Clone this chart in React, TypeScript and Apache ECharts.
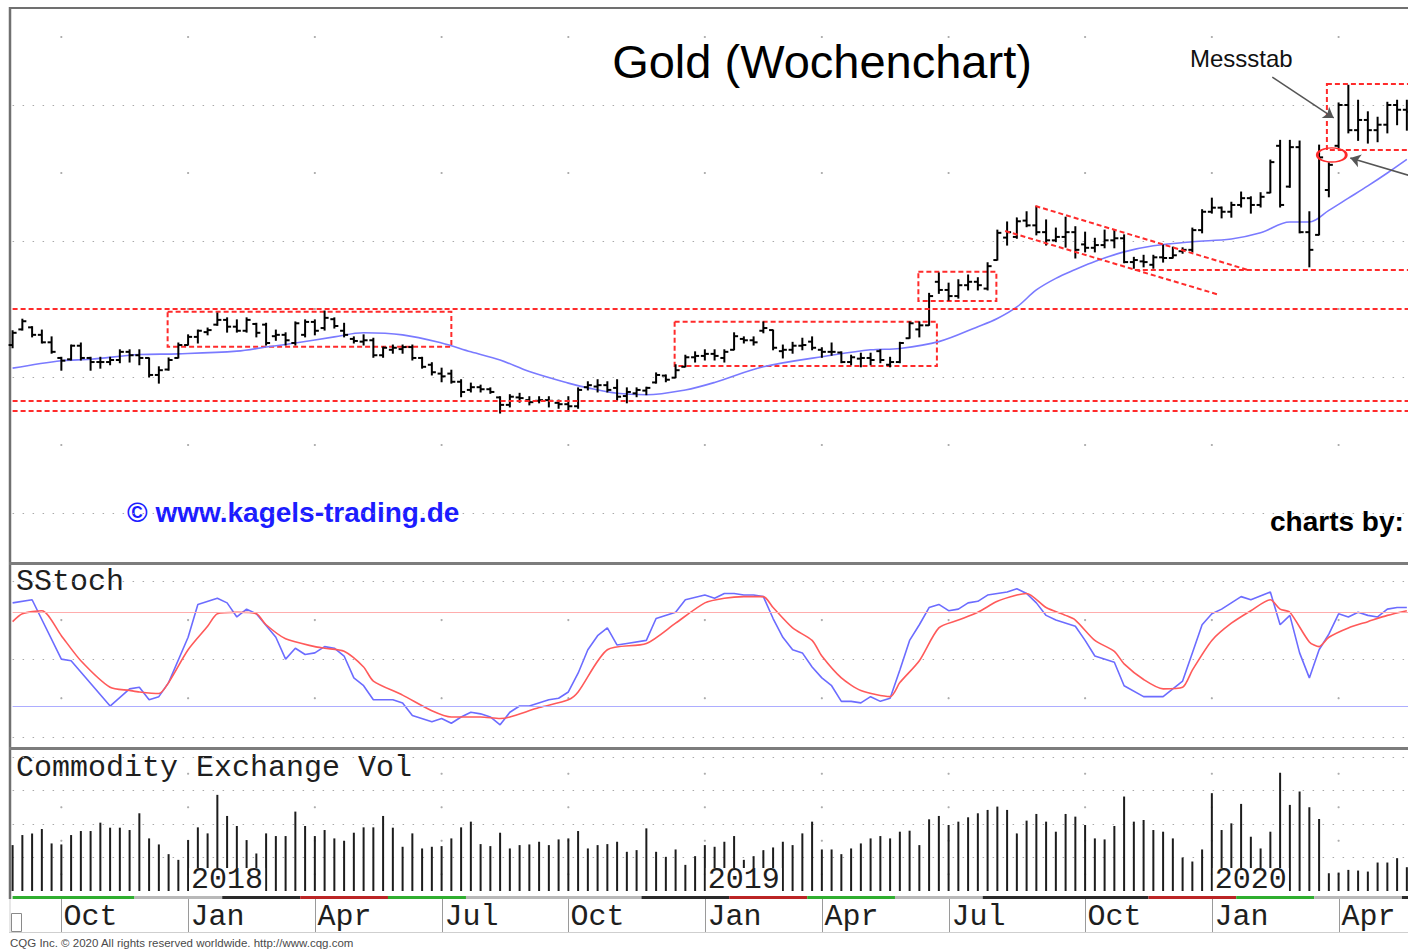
import React, { useEffect, useRef } from "react";
import * as echarts from "echarts";

// ---------- data ----------
const START = Date.UTC(2017, 7, 28);
const NCAT = 148;
const weeks: string[] = Array.from({ length: NCAT }, (_, i) =>
  new Date(START + i * 7 * 86400000).toISOString().slice(0, 10)
);

const monthTicks: [number, string][] = [
  [5, "Oct"], [18, "Jan"], [31, "Apr"], [44, "Jul"], [57, "Oct"], [71, "Jan"],
  [83, "Apr"], [96, "Jul"], [110, "Oct"], [123, "Jan"], [136, "Apr"],
];
const yearTicks: [number, string][] = [[18, "2018"], [71, "2019"], [123, "2020"]];

// weekly OHLC [open, high, low, close]
const ohlc: number[][] = [
  [1347,1368,1343,1365],[1370,1385,1369,1382],[1373,1374,1359,1362],[1362,1369,1350,1351],[1351,1359,1335,1337],
  [1328,1329,1310,1324],[1326,1347,1325,1346],[1346,1350,1325,1328],[1328,1329,1310,1322],[1322,1329,1313,1322],
  [1322,1329,1318,1325],[1325,1340,1321,1337],[1337,1340,1322,1332],[1332,1340,1318,1328],[1328,1328,1300,1303],
  [1303,1315,1291,1310],[1311,1328,1310,1325],[1328,1350,1328,1347],[1347,1362,1347,1359],[1359,1369,1350,1368],
  [1366,1372,1362,1369],[1377,1394,1376,1384],[1384,1387,1366,1374],[1374,1384,1366,1368],[1368,1387,1366,1384],
  [1378,1379,1359,1365],[1377,1379,1347,1350],[1360,1369,1354,1362],[1362,1365,1347,1354],[1350,1381,1347,1379],
  [1362,1384,1359,1381],[1381,1384,1362,1368],[1372,1397,1369,1387],[1385,1387,1372,1375],[1368,1379,1359,1362],
  [1356,1359,1350,1353],[1352,1362,1347,1354],[1354,1357,1329,1332],[1332,1344,1329,1343],[1340,1347,1335,1343],
  [1341,1347,1335,1344],[1344,1347,1325,1328],[1328,1329,1313,1315],[1318,1321,1303,1307],[1305,1313,1293,1301],
  [1305,1310,1291,1293],[1293,1296,1271,1278],[1281,1291,1278,1285],[1285,1288,1278,1282],[1282,1284,1276,1278],
  [1270,1271,1247,1259],[1259,1274,1256,1271],[1270,1276,1263,1269],[1266,1271,1259,1263],[1265,1271,1262,1266],
  [1266,1271,1256,1265],[1262,1266,1254,1260],[1260,1271,1251,1257],[1257,1284,1254,1281],[1285,1293,1281,1288],
  [1286,1296,1278,1288],[1288,1293,1278,1281],[1284,1296,1266,1271],[1272,1284,1262,1278],[1276,1284,1271,1281],
  [1280,1285,1274,1284],[1292,1306,1291,1303],[1302,1303,1293,1296],[1299,1318,1299,1310],[1315,1332,1315,1329],
  [1329,1337,1322,1331],[1331,1340,1325,1334],[1334,1340,1325,1331],[1328,1340,1322,1337],[1340,1365,1340,1360],
  [1356,1359,1350,1354],[1354,1359,1347,1351],[1368,1381,1365,1372],[1369,1369,1340,1343],[1338,1347,1328,1340],
  [1340,1351,1335,1346],[1346,1357,1340,1347],[1352,1359,1340,1343],[1340,1343,1329,1337],[1337,1350,1332,1337],
  [1336,1337,1321,1322],[1322,1332,1318,1329],[1327,1335,1315,1328],[1328,1335,1318,1325],[1338,1340,1321,1325],
  [1318,1329,1315,1322],[1322,1351,1321,1350],[1357,1381,1357,1379],[1370,1381,1359,1376],[1376,1423,1376,1419],
  [1440,1453,1423,1428],[1428,1438,1413,1419],[1419,1443,1416,1435],[1435,1450,1428,1440],[1440,1446,1428,1435],
  [1430,1468,1428,1463],[1472,1516,1472,1512],[1505,1528,1494,1513],[1506,1534,1504,1529],[1530,1543,1521,1523],
  [1523,1551,1509,1513],[1513,1531,1494,1501],[1501,1519,1499,1506],[1506,1535,1491,1513],[1513,1521,1475,1487],
  [1495,1513,1484,1490],[1490,1504,1484,1494],[1494,1516,1490,1501],[1501,1516,1490,1504],[1504,1509,1468,1469],
  [1469,1476,1460,1472],[1470,1479,1462,1469],[1465,1479,1460,1476],[1476,1494,1469,1475],[1475,1491,1475,1479],
  [1485,1490,1482,1487],[1487,1519,1484,1516],[1516,1546,1512,1543],[1543,1563,1541,1549],[1549,1550,1534,1543],
  [1543,1557,1535,1553],[1553,1572,1550,1563],[1563,1565,1541,1553],[1553,1571,1550,1565],[1571,1619,1571,1616],
  [1640,1648,1550,1553],[1580,1648,1579,1638],[1638,1647,1512,1513],[1513,1543,1462,1487],[1509,1641,1509,1623],
  [1575,1615,1565,1612],[1640,1703,1637,1700],[1700,1729,1659,1663],[1663,1707,1648,1678],[1678,1690,1644,1663],
  [1663,1682,1646,1671],[1671,1704,1659,1700],[1700,1707,1671,1693],[1693,1707,1663,1690],
];

// moving average line, read at [week, value]
const maPoints: number[][] = [
  [0,1313],[5,1324],[8,1326],[13,1333],[17,1334],[23,1338],[26,1344],[29,1350],[33,1359],[36,1365],
  [40,1362],[44,1350],[47,1337],[50,1325],[53,1308],[57,1291],[59,1284],[62,1276],[65,1274],[69,1281],
  [72,1292],[77,1315],[84,1332],[88,1340],[91,1342],[95,1352],[99,1374],[101,1386],[103,1403],[105,1428],
  [107,1445],[109,1458],[111,1470],[114,1484],[117,1493],[121,1499],[125,1503],[128,1512],[131,1528],
  [133,1528],[135,1545],[137,1563],[139,1581],[141,1600],[143,1620],
];

// slow stochastic %K (blue) and %D (red), [week, value]
const stochK: number[][] = [
  [0,86],[2,88],[5,50],[6,49],[10,20],[12,31],[13,32],[14,24],[15,26],[16,35],[18,64],[19,85],[21,89],[22,86],
  [23,77],[24,82],[25,79],[27,64],[28,50],[29,57],[30,53],[31,54],[32,58],[33,57],[34,52],[35,38],[36,33],[37,24],
  [39,24],[40,22],[41,14],[43,10],[44,12],[45,9],[46,13],[47,16],[48,15],[49,13],[50,8],[51,16],[52,20],[53,20],
  [55,24],[56,25],[57,29],[58,41],[59,56],[60,65],[61,70],[62,59],[63,60],[65,62],[66,76],[68,80],[69,88],[71,91],
  [72,89],[73,92],[74,92],[75,91],[76,91],[77,90],[78,76],[79,64],[80,56],[81,54],[82,45],[83,38],[84,33],[85,23],
  [86,23],[87,22],[88,26],[89,23],[90,25],[91,43],[92,62],[93,72],[94,83],[95,85],[96,81],[97,82],[98,86],[99,87],
  [100,91],[101,92],[102,93],[103,95],[104,92],[105,86],[106,78],[107,75],[109,71],[110,62],[111,52],[113,48],
  [114,33],[116,26],[118,26],[119,31],[120,36],[121,54],[122,72],[123,79],[124,82],[126,90],[127,88],[129,93],
  [130,72],[131,78],[132,54],[133,38],[134,56],[135,66],[136,79],[137,77],[138,80],[139,78],[140,77],[141,82],
  [142,83],[143,83],
];
const stochD: number[][] = [
  [0,74],[1,79],[3,81],[5,65],[7,49],[10,32],[12,30],[13,29],[15,28],[16,35],[18,56],[20,71],[21,79],[23,80],
  [25,79],[26,72],[28,63],[31,58],[32,57],[34,55],[36,45],[37,36],[40,27],[43,17],[45,13],[48,13],[50,12],[51,13],
  [54,19],[57,24],[58,29],[61,56],[65,60],[68,73],[71,86],[73,89],[75,90],[77,90],[78,83],[80,70],[82,62],[83,52],
  [85,38],[87,30],[90,26],[91,35],[93,49],[95,70],[97,75],[99,80],[101,87],[103,91],[104,92],[106,83],[108,78],
  [109,75],[111,62],[113,55],[114,47],[116,37],[118,31],[120,32],[121,43],[123,62],[125,73],[127,81],[129,88],
  [130,82],[131,80],[133,61],[134,58],[135,64],[137,70],[139,74],[141,78],[143,81],
];
const stochLevels = { upper: 80, lower: 20 };

// weekly volume (thousand contracts)
const volume: number[] = [
  137,167,172,185,142,139,167,179,179,204, 189,189,182,232,157,139,110,93,152,190,
  172,287,224,194,152,112,172,164,164,237, 194,164,182,157,150,174,190,190,224,189,
  132,172,127,132,134,157,190,207,140,134, 174,127,137,139,147,137,154,157,179,127,
  137,140,147,117,122,187,117,102,124,78, 104,137,132,147,164,93,104,122,130,147,
  137,172,207,124,124,110,127,142,157,164, 157,177,180,137,214,224,197,207,220,232,
  242,252,242,172,210,230,207,177,230,222, 197,157,154,194,282,207,212,182,177,157,
  100,88,124,292,182,202,260,162,127,177, 353,257,297,250,215,53,55,63,61,58,
  85,85,98,71,
];

// coloured strip below the volume pane: [first week, last week, kind]
const stripSegments: [number, number, string][] = [
  [0,12,"g"],[13,21,"s"],[22,29,"k"],[30,38,"r"],[39,46,"g"],[47,64,"s"],[65,73,"k"],[74,81,"r"],
  [82,90,"g"],[91,99,"s"],[100,116,"k"],[117,125,"r"],[126,133,"g"],[134,142,"s"],[143,147,"k"],
];

// annotations in data coordinates [week, price]
const annotLevels = [1401, 1265, 1250];
const annotBoxes: number[][] = [
  [15.9, 1396, 45.0, 1344.5],
  [67.9, 1381.3, 94.8, 1316.2],
  [92.9, 1454.8, 100.9, 1411.7],
  [134.8, 1730.9, 147, 1633.8],
];
const annotSegments: number[][] = [
  [104.9, 1551.5, 126.7, 1457.4],
  [101.8, 1514.7, 123.8, 1420.6],
  [115.1, 1457.4, 147, 1457.4],
];
const annotArrows: number[][] = [
  [129.2, 1741, 135.5, 1681],
  [146.4, 1583, 137.2, 1622],
];
const annotEllipse = [135.3, 1626.5];

const priceMinorLevels = [1200, 1400, 1600, 1800];
const stochMinorLevels = [25, 75];
const volMinorLevels = [50, 150, 250, 350];

// ---------- styling / layout ----------
const W = 1408;
const H = 952;
const X0 = 12.6;
const DX = 9.75;
const PLOT_W = (NCAT - 1) * DX;
const RED = "#ff2b2b";
const DOT = "#a9a9a9";
const MONO = '"Liberation Mono", "DejaVu Sans Mono", monospace';
const SANS = '"Liberation Sans", Arial, sans-serif';
const STRIP_COLORS: Record<string, string> = { g: "#2fae2f", s: "#b8b8b8", k: "#2a2a2a", r: "#bb2424" };

function buildOption(): any {
  const grids = [
    { top: 37, height: 476 },
    { top: 581, height: 156.3 },
    { top: 750.3, height: 140.7 },
    { top: 896, height: 3 },
    { top: 899, height: 33 },
  ].map((g) => ({ ...g, left: X0, width: PLOT_W, show: false, containLabel: false, outerBoundsMode: "none" }));

  const vx = (gridIndex: number) => ({
    type: "value", gridIndex, min: 0, max: NCAT - 1,
    axisLine: { show: false }, axisTick: { show: false }, axisLabel: { show: false }, splitLine: { show: false },
  });
  const hiddenY = (gridIndex: number) => ({
    type: "value", gridIndex, min: 0, max: 1,
    axisLine: { show: false }, axisTick: { show: false }, axisLabel: { show: false }, splitLine: { show: false },
  });
  const dotted = (color: any) => ({ show: true, lineStyle: { color, type: [1.5, 8.5], width: 1.2 } });

  const quarterIdx = monthTicks.map((t) => t[0]);
  const dots = (levels: number[]) => quarterIdx.flatMap((i) => levels.map((v) => [i, v]));
  const yearLines = (lo: number, hi: number, dash: number[]) => ({
    silent: true, symbol: ["none", "none"], label: { show: false },
    lineStyle: { color: DOT, type: dash, width: 1.2 },
    emphasis: { disabled: true },
    data: yearTicks.map(([i]) => [{ coord: [i, lo] }, { coord: [i, hi] }]),
  });

  const arrowStyle = { color: "#555", type: "solid", width: 1.5 };

  return {
    animation: false,
    backgroundColor: "#ffffff",
    grid: grids,
    xAxis: [vx(0), vx(1), vx(2), vx(3), vx(4)],
    yAxis: [
      {
        type: "value", gridIndex: 0, min: 1100, max: 1800, interval: 100,
        axisLine: { show: false }, axisTick: { show: false }, axisLabel: { show: false },
        splitLine: dotted([DOT, "rgba(0,0,0,0)"]),
      },
      {
        type: "value", gridIndex: 1, min: 0, max: 100, interval: 50,
        axisLine: { show: false }, axisTick: { show: false }, axisLabel: { show: false },
        splitLine: dotted(DOT),
      },
      {
        type: "value", gridIndex: 2, min: 0, max: 420, interval: 100,
        axisLine: { show: false }, axisTick: { show: false }, axisLabel: { show: false },
        splitLine: dotted(["rgba(0,0,0,0)", DOT, DOT, DOT, DOT, "rgba(0,0,0,0)"]),
      },
      hiddenY(3), hiddenY(4),
    ],
    series: [
      {
        type: "custom", name: "Gold", xAxisIndex: 0, yAxisIndex: 0, silent: true, clip: false, z: 4,
        data: ohlc.map((d, i) => [i, d[0], d[1], d[2], d[3]]),
        encode: { x: 0, y: [1, 2, 3, 4] },
        renderItem: (_p: any, api: any) => {
          const i = api.value(0);
          const o = api.coord([i, api.value(1)]);
          const h = api.coord([i, api.value(2)]);
          const l = api.coord([i, api.value(3)]);
          const c = api.coord([i, api.value(4)]);
          const x = h[0];
          const st = { stroke: "#000", lineWidth: 2 };
          return {
            type: "group",
            children: [
              { type: "line", shape: { x1: x, y1: h[1] - 0.5, x2: x, y2: l[1] + 0.5 }, style: st },
              { type: "line", shape: { x1: x - 4, y1: o[1], x2: x, y2: o[1] }, style: st },
              { type: "line", shape: { x1: x, y1: c[1], x2: x + 4, y2: c[1] }, style: st },
            ],
          };
        },
      },
      {
        type: "line", name: "MA", xAxisIndex: 0, yAxisIndex: 0, data: maPoints, smooth: 0.35,
        symbol: "none", silent: true, z: 3,
        lineStyle: { color: "#7a7aff", width: 1.6 },
        markArea: {
          silent: true, label: { show: false },
          itemStyle: { color: "rgba(0,0,0,0)", borderColor: RED, borderWidth: 2, borderType: [5, 3] },
          data: annotBoxes.map(([x1, y1, x2, y2]) => [{ coord: [x1, y1] }, { coord: [x2, y2] }]),
        },
        markLine: {
          silent: true, symbol: ["none", "none"], label: { show: false },
          lineStyle: { color: RED, type: [5, 3], width: 2 },
          emphasis: { disabled: true },
          data: [
            ...annotLevels.map((v) => ({ yAxis: v })),
            ...annotSegments.map(([x1, y1, x2, y2]) => [{ coord: [x1, y1] }, { coord: [x2, y2] }]),
            ...annotArrows.map(([x1, y1, x2, y2]) => [
              { coord: [x1, y1], symbol: "none", lineStyle: arrowStyle },
              { coord: [x2, y2], symbol: "arrow", symbolSize: 10 },
            ]),
          ],
        },
        markPoint: {
          silent: true, label: { show: false }, symbol: "circle", symbolSize: [29, 14],
          itemStyle: { color: "rgba(0,0,0,0)", borderColor: RED, borderWidth: 2 },
          data: [{ coord: annotEllipse }],
        },
      },
      {
        type: "scatter", xAxisIndex: 0, yAxisIndex: 0, data: dots(priceMinorLevels), symbolSize: 2.2,
        itemStyle: { color: "#999" }, silent: true, clip: false, z: 1,
        markLine: yearLines(1031, 1840, [1.5, 25.5]),
      },
      {
        type: "line", name: "%K", xAxisIndex: 1, yAxisIndex: 1, data: stochK, symbol: "none", silent: true,
        lineStyle: { color: "#6c6cff", width: 1.6 }, z: 3,
        markLine: {
          silent: true, symbol: ["none", "none"], label: { show: false }, emphasis: { disabled: true },
          data: [
            { yAxis: stochLevels.upper, lineStyle: { color: "#ffadad", type: "solid", width: 1.2 } },
            { yAxis: stochLevels.lower, lineStyle: { color: "#adadff", type: "solid", width: 1.2 } },
          ],
        },
      },
      {
        type: "line", name: "%D", xAxisIndex: 1, yAxisIndex: 1, data: stochD, symbol: "none", silent: true,
        smooth: 0.25, lineStyle: { color: "#ff5a5a", width: 1.6 }, z: 3,
      },
      {
        type: "scatter", xAxisIndex: 1, yAxisIndex: 1, data: dots(stochMinorLevels), symbolSize: 2.2,
        itemStyle: { color: "#999" }, silent: true, clip: false, z: 1,
        markLine: yearLines(-6, 109, [1.5, 6]),
      },
      {
        type: "bar", name: "Volume", xAxisIndex: 2, yAxisIndex: 2, silent: true,
        data: volume.map((v, i) => [i, v]), barWidth: 2, itemStyle: { color: "#1c1c1c" }, z: 3,
      },
      {
        type: "scatter", xAxisIndex: 2, yAxisIndex: 2, data: dots(volMinorLevels), symbolSize: 2.2,
        itemStyle: { color: "#999" }, silent: true, clip: false, z: 1,
        markLine: yearLines(-6, 415, [1.5, 6]),
      },
      // year labels sitting on the volume base line, white boxes over the bars
      {
        type: "custom", name: "Years", xAxisIndex: 2, yAxisIndex: 2, silent: true, clip: false, z: 6,
        data: yearTicks.map((t) => [t[0], 0]),
        encode: { x: 0, y: 1 },
        renderItem: (p: any, api: any) => {
          const b = api.coord([api.value(0), 0]);
          return {
            type: "group",
            children: [
              { type: "rect", shape: { x: b[0] + 1, y: b[1] - 23, width: 76, height: 23 }, style: { fill: "#fff" } },
              {
                type: "text", x: b[0] + 3, y: b[1] - 11,
                style: {
                  text: yearTicks[p.dataIndex][1], fontFamily: MONO, fontSize: 30, fill: "#1e1e1e",
                  align: "left", verticalAlign: "middle", textAlign: "left", textVerticalAlign: "middle",
                },
              },
            ],
          };
        },
      },
      // coloured strip
      {
        type: "custom", xAxisIndex: 3, yAxisIndex: 3, silent: true, clip: false,
        data: stripSegments.map((s) => [s[0], s[1]]),
        encode: { x: [0, 1] },
        renderItem: (p: any, api: any) => {
          const a = api.coord([Math.max(api.value(0) - 0.5, 0), 0.5]);
          const b = api.coord([api.value(1) + 0.5, 0.5]);
          return {
            type: "rect",
            shape: { x: a[0], y: a[1] - 1.5, width: b[0] - a[0], height: 3 },
            style: { fill: STRIP_COLORS[stripSegments[p.dataIndex][2]] },
          };
        },
      },
      // month axis row: tick line + label at each quarter start
      {
        type: "custom", name: "Months", xAxisIndex: 4, yAxisIndex: 4, silent: true, clip: false,
        data: monthTicks.map((t) => [t[0], 0]),
        encode: { x: 0, y: 1 },
        renderItem: (p: any, api: any) => {
          const top = api.coord([api.value(0), 1]);
          const bot = api.coord([api.value(0), 0]);
          const x = Math.round(top[0]) + 0.5;
          return {
            type: "group",
            children: [
              { type: "line", shape: { x1: x, y1: top[1], x2: x, y2: bot[1] }, style: { stroke: "#9a9a9a", lineWidth: 1 } },
              {
                type: "text", x: x + 2, y: (top[1] + bot[1]) / 2 + 1,
                style: {
                  text: monthTicks[p.dataIndex][1], fontFamily: MONO, fontSize: 30, fill: "#1e1e1e",
                  align: "left", verticalAlign: "middle", textAlign: "left", textVerticalAlign: "middle",
                },
              },
            ],
          };
        },
      },
    ],
    graphic: [
      // frame
      { type: "line", silent: true, shape: { x1: 9, y1: 8, x2: W, y2: 8 }, style: { stroke: "#707070", lineWidth: 2 } },
      { type: "line", silent: true, shape: { x1: 10, y1: 7, x2: 10, y2: 899 }, style: { stroke: "#707070", lineWidth: 2.5 } },
      { type: "line", silent: true, shape: { x1: 9, y1: 563.5, x2: W, y2: 563.5 }, style: { stroke: "#7c7c7c", lineWidth: 3 } },
      { type: "line", silent: true, shape: { x1: 9, y1: 748.5, x2: W, y2: 748.5 }, style: { stroke: "#7c7c7c", lineWidth: 3 } },
      { type: "line", silent: true, shape: { x1: 9, y1: 932.5, x2: W, y2: 932.5 }, style: { stroke: "#cfcfcf", lineWidth: 1 } },
      { type: "line", silent: true, shape: { x1: 10, y1: 899, x2: 10, y2: 932 }, style: { stroke: "#cfcfcf", lineWidth: 1 } },
      { type: "rect", silent: true, shape: { x: 11.5, y: 913.5, width: 10, height: 18 }, style: { fill: "none", stroke: "#8a8a8a", lineWidth: 1 } },
      // texts
      {
        type: "text", silent: true, x: 822, y: 61,
        style: { text: "Gold (Wochenchart)", fontFamily: SANS, fontSize: 47, fill: "#000", align: "center", verticalAlign: "middle" },
      },
      {
        type: "text", silent: true, x: 1190, y: 58,
        style: { text: "Messstab", fontFamily: SANS, fontSize: 24, fill: "#111", align: "left", verticalAlign: "middle" },
      },
      {
        type: "text", silent: true, x: 127, y: 512,
        style: { text: "© www.kagels-trading.de", fontFamily: SANS, fontWeight: "bold", fontSize: 28, fill: "#1c1cff", align: "left", verticalAlign: "middle" },
      },
      {
        type: "text", silent: true, x: 1270, y: 521,
        style: { text: "charts by:", fontFamily: SANS, fontWeight: "bold", fontSize: 28, fill: "#000", align: "left", verticalAlign: "middle" },
      },
      {
        type: "text", silent: true, x: 16, y: 582,
        style: { text: "SStoch", fontFamily: MONO, fontSize: 30, fill: "#1e1e1e", align: "left", verticalAlign: "middle" },
      },
      {
        type: "text", silent: true, x: 16, y: 768,
        style: { text: "Commodity Exchange Vol", fontFamily: MONO, fontSize: 30, fill: "#1e1e1e", align: "left", verticalAlign: "middle" },
      },
      {
        type: "text", silent: true, x: 10, y: 943,
        style: { text: "CQG Inc. © 2020 All rights reserved worldwide. http://www.cqg.com", fontFamily: SANS, fontSize: 11.5, fill: "#4a4a4a", align: "left", verticalAlign: "middle" },
      },
    ],
  };
}

export default function App() {
  const ref = useRef<HTMLDivElement>(null);
  useEffect(() => {
    document.body.style.margin = "0";
    const chart = echarts.init(ref.current as HTMLDivElement, null, { renderer: "svg" });
    chart.setOption(buildOption());
    return () => chart.dispose();
  }, []);
  return <div ref={ref} style={{ width: W, height: H, background: "#fff", overflow: "hidden" }} />;
}
